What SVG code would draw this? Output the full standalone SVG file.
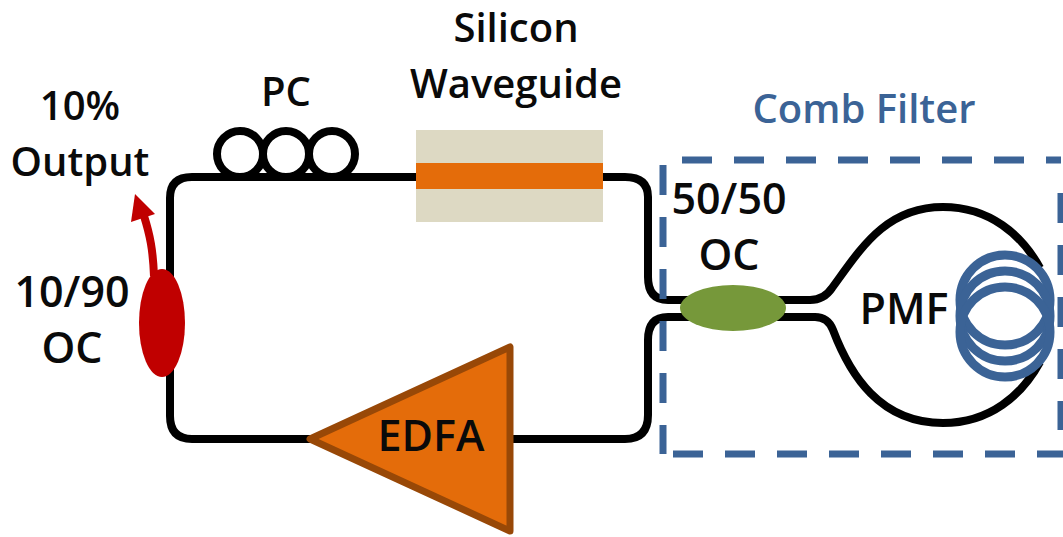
<svg xmlns="http://www.w3.org/2000/svg" width="1063" height="537" viewBox="0 0 1063 537">
<style>
text{font-family:"Open Sans","Liberation Sans",sans-serif;font-weight:600;font-size:40px;fill:#0a0a0a;text-anchor:middle}
.n{font-size:43px}
.f{fill:none;stroke:#000;stroke-width:8}
.b{fill:none;stroke:#3b6396;stroke-width:9}
.d{fill:none;stroke:#3b6396;stroke-width:7;stroke-dasharray:30 22}
</style>
<rect width="1063" height="537" fill="#fff"/>
<g id="connectors">
<path class="f" d="M648 197Q648 177 625 177H192Q170 177 170 198V416Q170 439 192 439H310"/>
<path class="f" d="M510 439H625Q648 439 648 415V340Q648 317 668 317H815Q828 317 833 330C850 375 880 423 943 423C990 423 1022 395 1040 362"/>
<path class="f" d="M648 197V277Q648 300 668 300H810Q824 300 832 288C860 250 885 207 943 207C990 207 1022 235 1040 268"/>
<path d="M154 276C153 250 150 235 144 216" fill="none" stroke="#c00000" stroke-width="8"/>
<polygon points="135,194 155,214 131,222" fill="#c00000"/>
</g>
<g id="pc"><circle class="f" cx="240" cy="154" r="23"/><circle class="f" cx="286" cy="154" r="23"/><circle class="f" cx="332" cy="154" r="23"/></g>
<g id="waveguide"><rect x="416" y="130" width="187" height="92" fill="#ddd9c3"/><rect x="416" y="163" width="187" height="26" fill="#e46c0a"/></g>
<g id="coupler-10-90"><ellipse cx="162" cy="323" rx="23" ry="54" fill="#c00000"/></g>
<g id="coupler-50-50"><ellipse cx="733" cy="308" rx="53" ry="23" fill="#76983a"/></g>
<g id="edfa"><polygon points="310,439 510,347 510,531" fill="#e46c0a" stroke="#984807" stroke-width="7" stroke-linejoin="round"/><text class="n" x="431" y="451">EDFA</text></g>
<g id="coil"><circle class="b" cx="1005" cy="300" r="45"/><circle class="b" cx="1005" cy="316" r="45"/><circle class="b" cx="1005" cy="332" r="45"/></g>
<g id="comb-filter">
<path class="d" d="M682 160H1061"/>
<path class="d" d="M1061 193V430"/>
<path class="d" d="M673 454H1063"/>
<path class="d" d="M663 165V454"/>
<text x="864" y="123" style="fill:#3b6396">Comb Filter</text>
</g>
<g id="labels">
<text x="516" y="42">Silicon</text><text x="516" y="98">Waveguide</text>
<text x="286" y="106">PC</text>
<text x="80" y="120">10%</text><text x="80" y="176">Output</text>
<text class="n" x="72" y="307">10/90</text><text class="n" x="72" y="363">OC</text>
<text class="n" x="729" y="214">50/50</text><text class="n" x="729" y="270">OC</text>
<text class="n" x="904" y="324">PMF</text>
</g>
</svg>
